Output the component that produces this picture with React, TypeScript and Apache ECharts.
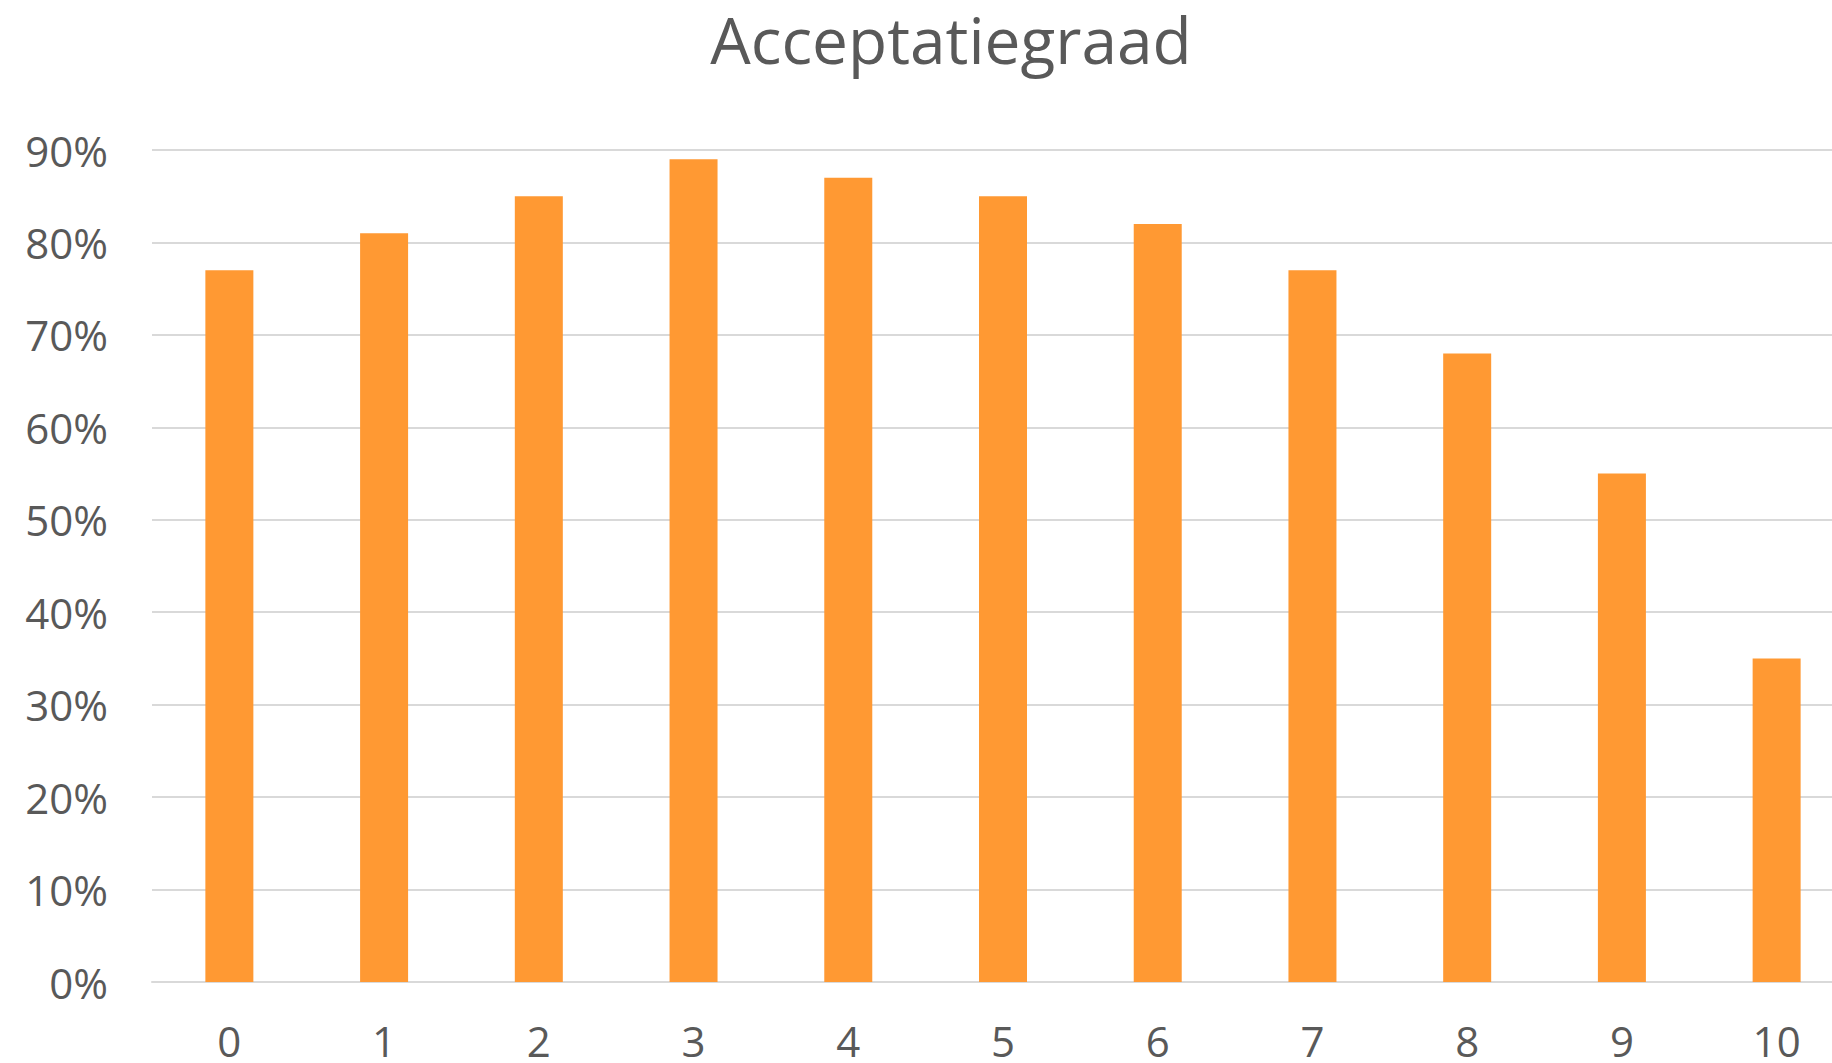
import React, { useEffect, useRef } from "react";
import * as echarts from "echarts";

const titleText = "Acceptatiegraad";
const categories = ["0", "1", "2", "3", "4", "5", "6", "7", "8", "9", "10"];
const acceptance = [0.77, 0.81, 0.85, 0.89, 0.87, 0.85, 0.82, 0.77, 0.68, 0.55, 0.35];
const yMin = 0;
const yMax = 0.9;
const yStep = 0.1;

const FONT = "'Open Sans', 'Noto Sans', sans-serif";
const TEXT_COLOR = "#595959";
const GRID_COLOR = "#d9d9d9";
const BAR_COLOR = "#ff9933";

// The original chart is wider than the visible picture: its plot area runs past the right edge.
const CHART_WIDTH = 1856;

export default function App() {
  const ref = useRef<HTMLDivElement>(null);

  useEffect(() => {
    document.body.style.margin = "0";
    document.body.style.overflow = "hidden";
    if (!ref.current) return;
    const chart = echarts.init(ref.current, undefined, { renderer: "svg" });
    chart.setOption({
      animation: false,
      backgroundColor: "#ffffff",
      title: {
        text: titleText,
        left: 946,
        top: 2,
        textAlign: "center",
        textStyle: {
          fontFamily: FONT,
          fontSize: 64,
          fontWeight: "normal",
          color: TEXT_COLOR,
        },
      },
      grid: {
        left: 152,
        right: 2,
        top: 150,
        bottom: 81,
        containLabel: false,
      },
      xAxis: {
        type: "category",
        data: categories,
        axisTick: { show: false },
        axisLine: { show: true, lineStyle: { color: GRID_COLOR, width: 2 } },
        axisLabel: {
          margin: 38,
          fontFamily: FONT,
          fontSize: 42,
          lineHeight: 40,
          color: TEXT_COLOR,
        },
      },
      yAxis: {
        type: "value",
        min: yMin,
        max: yMax,
        interval: yStep,
        axisLine: { show: false },
        axisTick: { show: false },
        splitLine: { show: true, lineStyle: { color: GRID_COLOR, width: 2 } },
        axisLabel: {
          margin: 44,
          fontFamily: FONT,
          fontSize: 42,
          color: TEXT_COLOR,
          formatter: (v: number) => Math.round(v * 100) + "%",
        },
      },
      series: [
        {
          type: "bar",
          data: acceptance,
          barWidth: 48,
          itemStyle: { color: BAR_COLOR },
        },
      ],
    });
    return () => chart.dispose();
  }, []);

  return (
    <div
      style={{
        position: "fixed",
        left: 0,
        top: 0,
        width: 1832,
        height: 1063,
        overflow: "hidden",
        background: "#ffffff",
      }}
    >
      <div ref={ref} style={{ width: CHART_WIDTH, height: 1063 }} />
    </div>
  );
}
